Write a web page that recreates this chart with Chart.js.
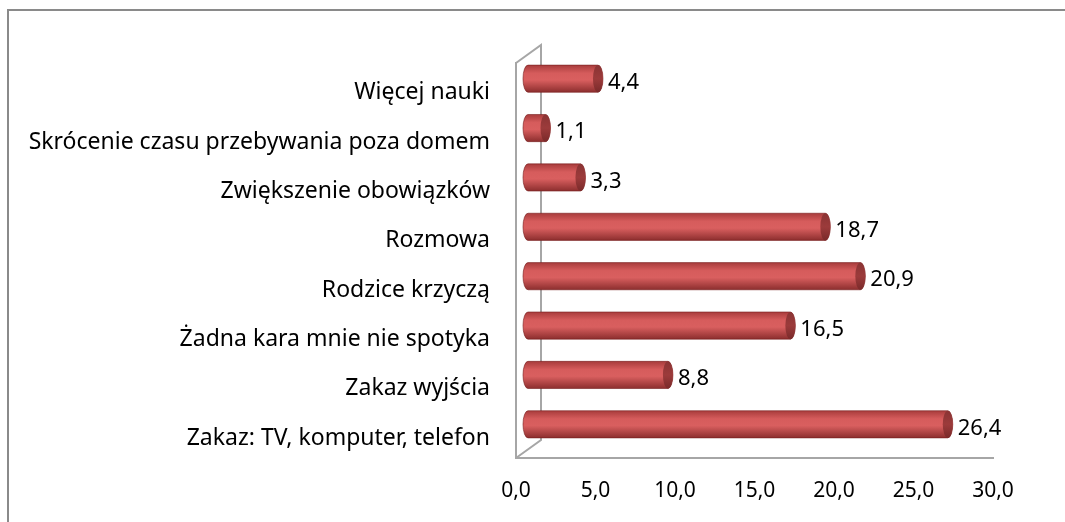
<!DOCTYPE html>
<html>
<head>
<meta charset="utf-8">
<script src="https://cdn.jsdelivr.net/npm/chart.js@4"></script>
<style>
  html, body { margin: 0; padding: 0; background: #fff; }
  #wrap { position: relative; width: 1065px; height: 522px; overflow: hidden; }
  #frame { position: absolute; left: 7px; top: 9px; width: 1100px; height: 600px; border-left: 2px solid #8a8a8a; border-top: 2px solid #8a8a8a; }
  canvas { position: absolute; left: 0; top: 0; }
</style>
</head>
<body>
<div id="wrap">
  <div id="frame"></div>
  <canvas id="barChart" width="1065" height="522"></canvas>
</div>
<script>
var categories = [
    'Więcej nauki',
    'Skrócenie czasu przebywania poza domem',
    'Zwiększenie obowiązków',
    'Rozmowa',
    'Rodzice krzyczą',
    'Żadna kara mnie nie spotyka',
    'Zakaz wyjścia',
    'Zakaz: TV, komputer, telefon'
];
var values = [4.4, 1.1, 3.3, 18.7, 20.9, 16.5, 8.8, 26.4];
var xTicks = [0, 5, 10, 15, 20, 25, 30];

var FONT = '"Noto Sans", sans-serif';
var DX = 12, DY = -9;  // depth shift of the bars

function fmt(v) {
    return v.toFixed(1).replace('.', ',');
}

// back wall + floor of the 3d frame
var wallPlugin = {
    id: 'wall',
    beforeDatasetsDraw: function (chart) {
        var c = chart.ctx, a = chart.chartArea;
        c.save();
        c.strokeStyle = '#a6a6a6';
        c.lineWidth = 2;
        c.beginPath();
        c.moveTo(a.left, a.top);
        c.lineTo(a.left + 25, a.top - 18);
        c.lineTo(a.left + 25, a.bottom - 18);
        c.lineTo(a.left, a.bottom);
        c.stroke();
        c.restore();
    }
};

// red cylinders + value labels
var cylPlugin = {
    id: 'cyl',
    afterDatasetsDraw: function (chart) {
        var c = chart.ctx;
        var xs = chart.scales.x;
        var meta = chart.getDatasetMeta(0);
        c.save();
        meta.data.forEach(function (bar, i) {
            var v = values[i];
            var x0 = xs.getPixelForValue(0) + DX;
            var x1 = xs.getPixelForValue(v) + DX;
            var yc = bar.y + DY;
            var h = bar.height;
            var top = yc - h / 2, bot = yc + h / 2;
            var rx = 5;

            var g = c.createLinearGradient(0, top, 0, bot);
            g.addColorStop(0, '#a83c3c');
            g.addColorStop(0.3, '#d65c5c');
            g.addColorStop(0.55, '#d95f5f');
            g.addColorStop(1, '#8c2e2e');

            c.beginPath();
            c.ellipse(x0, yc, rx, h / 2, 0, Math.PI / 2, Math.PI * 1.5);
            c.lineTo(x1, top);
            c.ellipse(x1, yc, rx, h / 2, 0, -Math.PI / 2, Math.PI / 2);
            c.closePath();
            c.fillStyle = g;
            c.fill();
            c.strokeStyle = 'rgba(120,30,30,0.6)';
            c.lineWidth = 1;
            c.stroke();

            var g2 = c.createLinearGradient(0, top, 0, bot);
            g2.addColorStop(0, '#8a3434');
            g2.addColorStop(0.5, '#9c3b3b');
            g2.addColorStop(1, '#7a2a2a');
            c.beginPath();
            c.ellipse(x1, yc, rx, h / 2, 0, 0, Math.PI * 2);
            c.fillStyle = g2;
            c.fill();

            c.fillStyle = '#000';
            c.font = '22px ' + FONT;
            c.textAlign = 'left';
            c.textBaseline = 'middle';
            c.fillText(fmt(v), x1 + rx + 5, yc + 4);
        });
        c.restore();
    }
};

var ctx = document.getElementById('barChart').getContext('2d');
var myChart = new Chart(ctx, {
    type: 'bar',
    data: {
        labels: categories,
        datasets: [{
            data: values,
            backgroundColor: 'rgba(0,0,0,0)',
            borderWidth: 0,
            barPercentage: 0.55,
            categoryPercentage: 1
        }]
    },
    options: {
        indexAxis: 'y',
        responsive: false,
        animation: false,
        layout: {
            padding: { left: 0, right: 72, top: 63, bottom: 0 }
        },
        plugins: {
            legend: { display: false },
            tooltip: { enabled: false }
        },
        scales: {
            x: {
                min: 0,
                max: 30,
                afterBuildTicks: function (s) {
                    s.ticks = xTicks.map(function (v) { return { value: v }; });
                },
                afterFit: function (s) { s.height = 64; },
                grid: { display: false, drawTicks: false },
                border: { display: true, color: '#a6a6a6', width: 2 },
                ticks: {
                    color: '#000',
                    padding: 20,
                    font: { family: FONT, size: 21 },
                    callback: function (v) { return fmt(v); }
                }
            },
            y: {
                afterFit: function (s) { s.width = 516; },
                grid: { display: false, drawTicks: false },
                border: { display: true, color: '#a6a6a6', width: 2 },
                ticks: {
                    color: '#000',
                    padding: 26,
                    labelOffset: 5,
                    font: { family: FONT, size: 23 }
                }
            }
        }
    },
    plugins: [wallPlugin, cylPlugin]
});
</script>
</body>
</html>
